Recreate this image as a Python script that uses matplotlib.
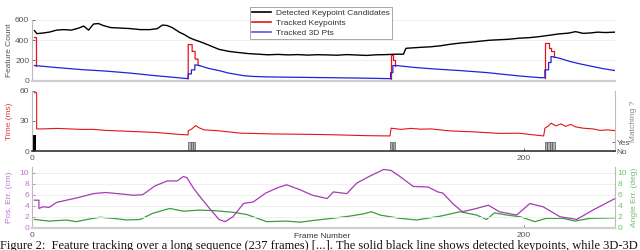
import matplotlib
matplotlib.use('Agg')
import matplotlib.pyplot as plt
from matplotlib.lines import Line2D

plt.rcParams['font.family'] = ['Liberation Sans', 'DejaVu Sans']

# ---- data ----
det_frames = [1, 2, 4, 7, 10, 13, 16, 19, 21, 23, 25, 27, 29, 32, 36, 40, 44, 48, 51, 53, 55, 57,
              60, 62, 64, 66, 68, 70, 72, 74, 76, 78, 80, 84, 88, 92, 96, 100, 104, 108, 112, 116,
              120, 124, 128, 132, 136, 140, 144, 148, 151, 152, 155, 158, 162, 166, 170, 174, 178,
              182, 186, 190, 194, 198, 202, 206, 210, 214, 218, 221, 224, 227, 230, 233, 237]
det_values = [495, 465, 470, 480, 500, 505, 500, 520, 540, 500, 560, 565, 545, 525, 520, 515, 505,
              505, 515, 550, 545, 525, 478, 455, 425, 405, 388, 370, 350, 330, 310, 300, 290, 278,
              268, 262, 256, 260, 255, 258, 253, 257, 255, 252, 258, 254, 250, 256, 258, 262, 262,
              320, 325, 330, 335, 345, 360, 372, 380, 390, 400, 405, 410, 420, 425, 435, 448, 462,
              470, 485, 468, 472, 480, 476, 480]

pts3d_frames = [1, 10, 20, 30, 40, 50, 60, 63.5, 63.5, 64.8, 64.8, 66.2, 66.2, 68, 72, 76, 80, 86,
                90, 95, 100, 110, 120, 130, 140, 145.8, 145.8, 146.7, 146.7, 148, 156, 164, 174,
                185, 192, 198, 206.5, 208.5, 208.5, 210, 210, 211, 211, 214, 218.7, 223, 228, 232, 237]
pts3d_values = [150, 130, 110, 95, 75, 50, 28, 20, 67, 67, 107, 107, 157, 150, 120, 100, 75, 50,
                42, 38, 36, 33, 30, 27, 23, 20, 80, 80, 150, 150, 130, 115, 100, 80, 62, 47, 30,
                30, 107, 107, 180, 180, 240, 225, 190, 165, 140, 120, 100]

# tracked keypoints where they differ from the 3D points (otherwise hidden under blue)
trk_segments = [
    ([1, 1.6, 1.6], [430, 430, 150]),
    ([63.5, 63.5, 65.1, 65.1, 66.3, 66.3, 67.5, 67.5, 68], [20, 357, 357, 290, 290, 214, 214, 155, 150]),
    ([145.8, 145.8, 146.6, 146.6, 147.4, 147.4], [20, 250, 250, 207, 207, 150]),
    ([208.5, 208.5, 210, 210, 211, 211, 212, 212], [30, 374, 374, 324, 324, 290, 290, 238]),
]

time_frames = [1, 1.9, 1.9, 5, 10, 15, 20, 25, 30, 35, 40, 45, 50, 55, 60, 63.5, 63.5, 65, 66.5, 68,
               70, 75, 80, 85, 90, 97, 105, 115, 125, 135, 145.5, 146, 150, 154, 158, 162, 170, 180,
               190, 198, 204, 208, 208.5, 210, 211, 213, 215, 217, 219, 221, 224, 228, 231, 234, 237]
time_values = [58, 58, 22, 22, 22.5, 22, 21.5, 21.5, 20.5, 20, 19.5, 19, 18.5, 17.5, 16.5, 16, 20,
               22, 25.3, 23, 21, 20.3, 19, 17.7, 17.5, 17, 16.8, 16.5, 16, 15.3, 15, 22.7, 21.5,
               22.5, 21.7, 22, 20, 19, 17.5, 17.7, 16, 15, 22.7, 25, 27.7, 25, 27, 24.5, 26.5, 24,
               22.7, 22, 20.5, 21, 20.3]

init_frame = [1]
init_flag = [1.85]
match_frames = [64, 65, 66, 146, 147, 209, 210, 211, 212]
match_flag = [1, 1, 1, 1, 1, 1, 1, 1, 1]

pos_frames = [1, 2.8, 2.8, 4.5, 7, 10, 14, 19, 25, 30, 37, 41, 45, 50, 55, 59, 61.5, 63, 65.6, 68,
              72, 76, 78.5, 81.7, 86, 90, 95, 100, 103.5, 109, 114, 120, 122.5, 128, 132, 137, 143,
              146, 149.6, 155, 161, 165, 167, 171, 175, 180.7, 185.5, 190, 197, 202.4, 207.8,
              214.6, 221.4, 228, 237]
pos_values = [5.0, 5.0, 3.5, 3.8, 3.7, 4.6, 5.0, 5.5, 6.2, 6.4, 6.1, 5.9, 6.0, 7.6, 8.5, 8.5, 9.3,
              9.1, 7.2, 5.8, 3.6, 1.5, 1.1, 2.0, 4.4, 4.7, 6.3, 7.3, 7.8, 6.9, 5.9, 5.3, 6.5, 6.2,
              8.1, 9.3, 10.6, 10.4, 9.3, 7.5, 7.4, 6.5, 6.3, 4.4, 2.9, 3.5, 4.1, 2.9, 2.3, 4.4, 3.8,
              2.0, 1.5, 3.2, 5.3]

ang_frames = [1, 7, 14, 18, 23.6, 27.6, 33, 38.5, 44, 49, 56, 61.5, 68, 74, 81.8, 87.3, 95.4,
              103.5, 109, 114, 122, 129, 134.6, 138, 141.5, 149.6, 156.4, 166, 174, 180.7, 184.8,
              188, 193, 198.4, 204.5, 209, 216, 220.7, 226.8, 237]
ang_values = [1.5, 1.2, 1.4, 1.1, 1.6, 1.9, 1.7, 1.4, 1.5, 2.6, 3.5, 3.0, 3.2, 3.1, 2.8, 2.4, 1.1,
              1.2, 1.0, 1.3, 1.7, 2.1, 2.5, 2.9, 2.3, 1.7, 1.4, 2.1, 2.9, 2.3, 1.5, 2.7, 2.3, 2.0,
              1.1, 1.7, 1.7, 1.2, 1.7, 1.8]

x_ticks = [0, 200]
legend_labels = ['Detected Keypoint Candidates', 'Tracked Keypoints', 'Tracked 3D Pts']
caption = ('Figure 2:  Feature tracking over a long sequence (237 frames) [...]. '
           'The solid black line shows detected keypoints, while 3D-3D')

# ---- style ----
negro = '#000000'
rojo = '#e4141b'
azul = '#2222dd'
morado = '#a43cb4'
verde = '#3a9e3a'
gris = '#555555'
gris_claro = '#cfcfcf'
fs = 6

W, H = 640, 250
def box(x0, y0, x1, y1):
    return [x0 / W, 1 - y1 / H, (x1 - x0) / W, (y1 - y0) / H]

fig = plt.figure(figsize=(6.4, 2.5), dpi=100)
ax1 = fig.add_axes(box(32, 20, 615, 80.7))
ax2 = fig.add_axes(box(32, 90.7, 615, 151))
ax3 = fig.add_axes(box(32, 167.2, 615, 227.7))

for ax in (ax1, ax2, ax3):
    ax.set_xlim(0, 237)
    ax.set_xticks(x_ticks)
    for s in ('top', 'right'):
        ax.spines[s].set_visible(False)
    ax.spines['left'].set_color('#bbbbbb')
    ax.spines['left'].set_linewidth(0.8)
    ax.tick_params(labelsize=fs, colors=gris, direction='in', length=2, width=0.6, pad=2)

# Top panel
ax1.plot(det_frames, det_values, color=negro, lw=1.0, zorder=3)
for fx, fy in trk_segments:
    ax1.plot(fx, fy, color=rojo, lw=0.9, zorder=2)
ax1.plot(pts3d_frames, pts3d_values, color=azul, lw=0.9, zorder=4)
ax1.set_ylim(0, 600)
ax1.set_yticks([0, 200, 400, 600])
ax1.set_xticklabels([])
ax1.tick_params(axis='x', length=0)
ax1.grid(axis='y', color='#eeeeee', lw=0.6)
ax1.spines['bottom'].set_color(gris_claro)
ax1.spines['bottom'].set_linewidth(1.6)
ax1.set_ylabel('Feature Count', fontsize=fs, color=gris)
ax1.yaxis.set_label_coords(-0.033, 0.5)

# Middle panel
ax2.plot(time_frames, time_values, color=rojo, lw=0.8, zorder=3)
ax2.set_ylim(0, 60)
ax2.set_yticks([0, 30, 60])
ax2.set_ylabel('Time (ms)', fontsize=fs, color='#e03a3a')
ax2.yaxis.set_label_coords(-0.033, 0.5)
ax2.spines['bottom'].set_color('#333333')
ax2.spines['bottom'].set_linewidth(1.2)
ax2.tick_params(axis='x', pad=3)
ax2r = ax2.twinx()
ax2r.set_ylim(0, 60.3 / 8.7)
ax2r.bar(init_frame, init_flag, width=1.0, color=negro, zorder=2)
ax2r.bar(match_frames, match_flag, width=0.9, color='#b0b0b0', edgecolor='#555555', linewidth=0.5)
ax2r.set_yticks([0, 1])
ax2r.set_yticklabels(['No', 'Yes'])
ax2r.tick_params(labelsize=fs, colors=gris, direction='in', length=2, width=0.6, pad=1)
for s in ('top', 'left', 'bottom'):
    ax2r.spines[s].set_visible(False)
ax2r.spines['right'].set_color('#bbbbbb')
ax2r.spines['right'].set_linewidth(0.8)
ax2r.set_ylabel('Matching ?', fontsize=fs, color='#888888')
ax2r.yaxis.set_label_coords(1.026, 0.5)
ax2.set_zorder(ax2r.get_zorder() + 1)
ax2.patch.set_visible(False)

# Bottom panel
ax3.plot(pos_frames, pos_values, color=morado, lw=0.9, zorder=3)
ax3.set_ylim(0, 11)
ax3.set_yticks([0, 2, 4, 6, 8, 10])
ax3.grid(axis='y', color='#eeeeee', lw=0.6)
ax3.tick_params(axis='y', colors='#c070d0')
ax3.tick_params(axis='x', pad=3)
ax3.spines['bottom'].set_color(gris_claro)
ax3.spines['bottom'].set_linewidth(1.6)
ax3.set_ylabel('Pos. Err. (cm)', fontsize=fs, color='#c070d0')
ax3.yaxis.set_label_coords(-0.033, 0.5)
ax3.set_xlabel('Frame Number', fontsize=fs, color='#333333')
ax3.xaxis.set_label_coords(0.497, -0.095)
ax3r = ax3.twinx()
ax3r.plot(ang_frames, ang_values, color=verde, lw=0.9)
ax3r.set_ylim(0, 11)
ax3r.set_yticks([0, 2, 4, 6, 8, 10])
ax3r.tick_params(labelsize=fs, colors='#70c070', direction='in', length=2, width=0.6, pad=2)
for s in ('top', 'left', 'bottom'):
    ax3r.spines[s].set_visible(False)
ax3r.spines['right'].set_color('#bbbbbb')
ax3r.spines['right'].set_linewidth(0.8)
ax3r.set_ylabel('Angle Err. (deg)', fontsize=fs, color='#70c070')
ax3r.yaxis.set_label_coords(1.027, 0.5)
ax3.set_zorder(ax3r.get_zorder() + 1)
ax3.patch.set_visible(False)

# Legend
handles = [Line2D([], [], color=negro, lw=1.2),
           Line2D([], [], color=rojo, lw=1.2),
           Line2D([], [], color='#5555ee', lw=1.2)]
leg = fig.legend(handles, legend_labels, loc='upper center', bbox_to_anchor=(321 / W, 1 - 2.5 / H),
                 fontsize=fs, frameon=True, fancybox=False, edgecolor='#999999', framealpha=1,
                 handlelength=2.2, handletextpad=0.6, labelspacing=0.25, borderpad=0.3)
leg.get_frame().set_linewidth(0.6)
for t in leg.get_texts():
    t.set_color('#333333')

# Caption (cut off at the bottom in the reference)
fig.text(0.0, 1 - 239.5 / H, caption, fontsize=9, family=['Liberation Serif', 'DejaVu Serif'],
         va='top', ha='left', color='#111111')

fig.savefig('out.png', dpi=100)
plt.close(fig)
